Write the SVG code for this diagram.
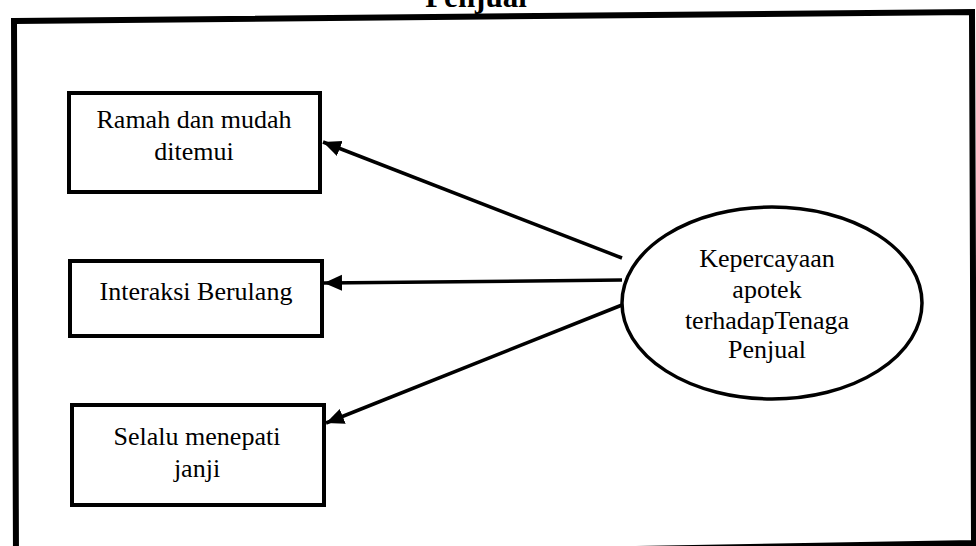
<svg xmlns="http://www.w3.org/2000/svg" width="976" height="546" viewBox="0 0 976 546">
  <style>
    .frame { fill: none; stroke: #000; stroke-width: 6; }
    .box { fill: #fff; stroke: #000; stroke-width: 4; }
    .oval { fill: #fff; stroke: #000; stroke-width: 3.5; }
    .lbl { font-family: "Liberation Serif", "Times New Roman", serif; font-size: 26px; fill: #000; text-anchor: middle; }
    .title { font-family: "Liberation Serif", "Times New Roman", serif; font-size: 31px; font-weight: bold; fill: #000; text-anchor: middle; }
    .conn { fill: none; stroke: #000; stroke-width: 3.5; }
  </style>
  <defs>
    <marker id="arrow" markerUnits="userSpaceOnUse" markerWidth="20" markerHeight="18" refX="18" refY="8" orient="auto">
      <path d="M0,0 L18,8 L0,16 Z" fill="#000"/>
    </marker>
  </defs>
  <rect width="976" height="546" fill="#fff"/>

  <!-- heading (last word of the caption) -->
  <text class="title" x="476" y="7">Penjual</text>

  <!-- outer frame, slightly tilted -->
  <polygon class="frame" points="14,21 972,12 974,543 16,560"/>

  <g id="node-ramah">
    <rect class="box" x="69" y="93" width="251" height="99"/>
    <text class="lbl" x="194" y="128">Ramah dan mudah</text>
    <text class="lbl" x="194" y="160">ditemui</text>
  </g>

  <g id="node-interaksi">
    <rect class="box" x="70" y="261" width="252" height="75"/>
    <text class="lbl" x="196" y="300">Interaksi Berulang</text>
  </g>

  <g id="node-janji">
    <rect class="box" x="72" y="405" width="252" height="100"/>
    <text class="lbl" x="197" y="445">Selalu menepati</text>
    <text class="lbl" x="197" y="477">janji</text>
  </g>

  <g id="node-kepercayaan">
    <ellipse class="oval" cx="772" cy="303" rx="150" ry="96"/>
    <text class="lbl" x="767" y="267">Kepercayaan</text>
    <text class="lbl" x="767" y="298">apotek</text>
    <text class="lbl" x="767" y="329">terhadapTenaga</text>
    <text class="lbl" x="767" y="358">Penjual</text>
  </g>

  <g id="connectors">
    <line class="conn" x1="622" y1="258" x2="323" y2="142" marker-end="url(#arrow)"/>
    <line class="conn" x1="622" y1="280" x2="324" y2="283" marker-end="url(#arrow)"/>
    <line class="conn" x1="622" y1="305" x2="326" y2="423" marker-end="url(#arrow)"/>
  </g>
</svg>
